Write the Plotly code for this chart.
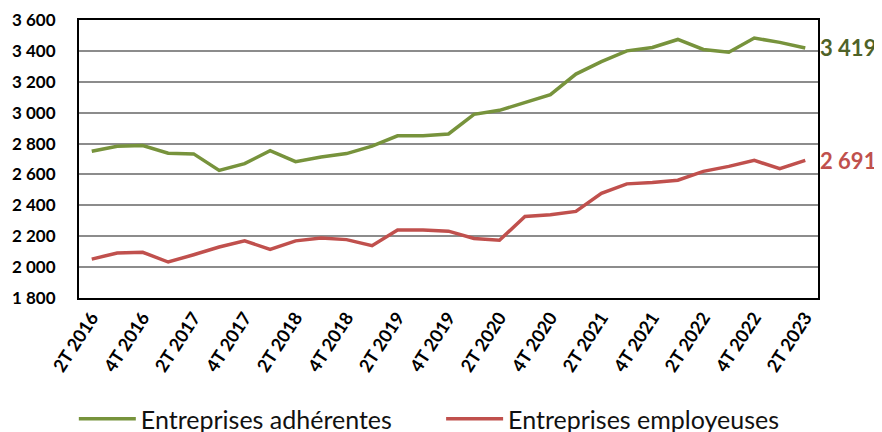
import plotly.graph_objects as go

# Trimestres
trimestres = [
    "2T 2016", "3T 2016", "4T 2016", "1T 2017", "2T 2017", "3T 2017", "4T 2017",
    "1T 2018", "2T 2018", "3T 2018", "4T 2018", "1T 2019", "2T 2019", "3T 2019",
    "4T 2019", "1T 2020", "2T 2020", "3T 2020", "4T 2020", "1T 2021", "2T 2021",
    "3T 2021", "4T 2021", "1T 2022", "2T 2022", "3T 2022", "4T 2022", "1T 2023",
    "2T 2023",
]

adherentes = [
    2750, 2783, 2787, 2737, 2733, 2626, 2670, 2754, 2683, 2713,
    2735, 2783, 2850, 2850, 2862, 2989, 3015, 3067, 3117, 3250,
    3330, 3400, 3422, 3474, 3409, 3391, 3483, 3455, 3419,
]

employeuses = [
    2052, 2091, 2096, 2033, 2080, 2130, 2170, 2115, 2170, 2189,
    2178, 2139, 2241, 2241, 2233, 2185, 2174, 2328, 2339, 2361,
    2478, 2539, 2548, 2563, 2620, 2652, 2691, 2637, 2691,
]

VERT = "#77933C"
ROUGE = "#C0504D"
FONT = "Lato"

fig = go.Figure()

fig.add_trace(go.Scatter(
    x=trimestres, y=adherentes, mode="lines",
    name="Entreprises adhérentes",
    line=dict(color=VERT, width=3.5),
    legend="legend",
))
fig.add_trace(go.Scatter(
    x=trimestres, y=employeuses, mode="lines",
    name="Entreprises employeuses",
    line=dict(color=ROUGE, width=3.5),
    legend="legend2",
))

# Etiquettes de fin de série
fig.add_annotation(
    x=trimestres[-1], y=adherentes[-1], text="<b>3 419</b>",
    showarrow=False, xanchor="left", xshift=13,
    font=dict(family=FONT, size=22, color="#4F6228"),
)
fig.add_annotation(
    x=trimestres[-1], y=employeuses[-1], text="<b>2 691</b>",
    showarrow=False, xanchor="left", xshift=13,
    font=dict(family=FONT, size=22, color=ROUGE),
)

legende = dict(
    orientation="h", xanchor="left",
    yref="container", y=0.0, yanchor="bottom",
    font=dict(family=FONT, size=25, color="#111"),
    itemwidth=57, bgcolor="rgba(0,0,0,0)",
)

# la page ajoute une marge de 8 px ; la légende déborde un peu en bas (coupée comme l'original)
fig.update_layout(
    width=874, height=434,
    margin=dict(l=71, r=64, t=12, b=144),
    plot_bgcolor="white",
    paper_bgcolor="white",
    separators=", ",
    font=dict(family=FONT, color="black"),
    showlegend=True,
    legend=dict(legende, x=-0.007),
    legend2=dict(legende, x=0.49),
)

fig.update_xaxes(
    type="category",
    range=[-0.5, len(trimestres) - 0.5],
    tickmode="array",
    tickvals=trimestres[::2],
    ticktext=["<b>%s</b>" % t for t in trimestres[::2]],
    tickangle=-57,
    tickfont=dict(family=FONT, size=18),
    showline=True, mirror=True, linecolor="black", linewidth=2,
    showgrid=False, ticks="", automargin=False,
)

fig.update_yaxes(
    range=[1800, 3600],
    dtick=200,
    tickformat=",d",
    tickfont=dict(family=FONT, size=17, weight="bold"),
    ticklabelstandoff=18,
    showline=True, mirror=True, linecolor="black", linewidth=2,
    showgrid=True, gridcolor="#8C8C8C", gridwidth=1.5,
    zeroline=False, ticks="", automargin=False,
)

fig.write_html("out.html")
